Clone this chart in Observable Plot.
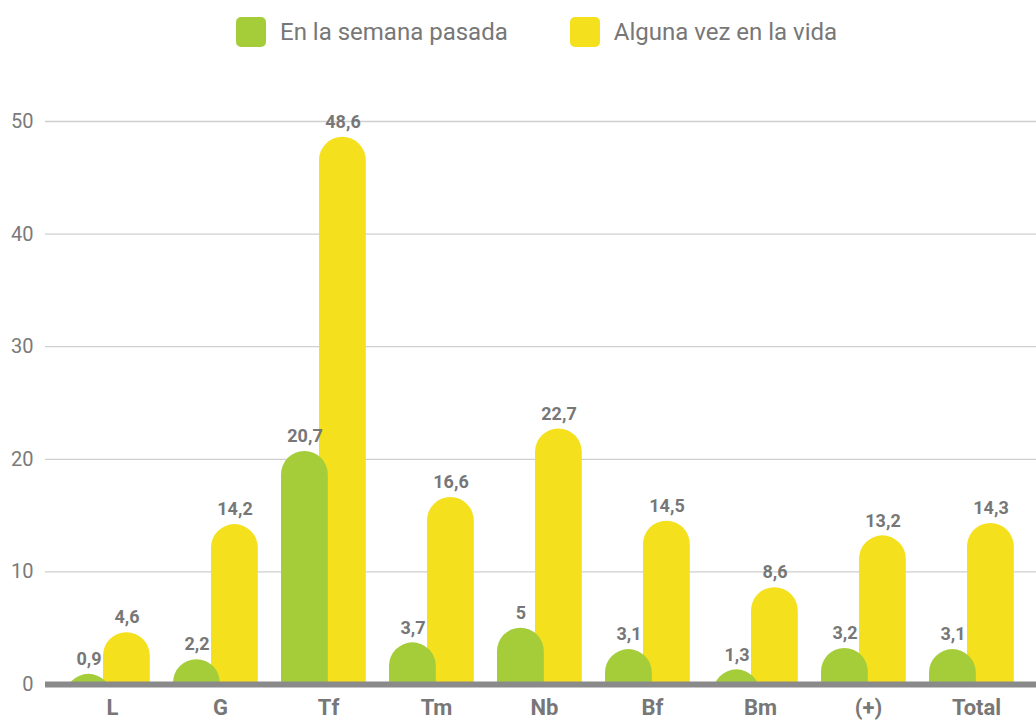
<!DOCTYPE html>
<html>
<head>
<meta charset="utf-8">
<script src="https://cdn.jsdelivr.net/npm/d3@7"></script>
<script src="https://cdn.jsdelivr.net/npm/@observablehq/plot@0.6"></script>
<style>
  html, body { margin: 0; padding: 0; background: #fff; }
  body { width: 1036px; height: 720px; overflow: hidden; font-family: Roboto, sans-serif; }
  #legend { height: 64px; display: flex; align-items: center; padding-left: 236px; }
  .item { display: flex; align-items: center; }
  .sw { width: 30px; height: 30px; border-radius: 5px; margin-right: 14px; }
  .lab { font-size: 24px; color: #777; }
  #chart svg { display: block; }
</style>
</head>
<body>
<div id="legend"></div>
<div id="chart"></div>
<script>
const categories = ["L", "G", "Tf", "Tm", "Nb", "Bf", "Bm", "(+)", "Total"];
const semanaPasada = [0.9, 2.2, 20.7, 3.7, 5, 3.1, 1.3, 3.2, 3.1];
const algunaVez = [4.6, 14.2, 48.6, 16.6, 22.7, 14.5, 8.6, 13.2, 14.3];
const seriesNames = ["En la semana pasada", "Alguna vez en la vida"];
const seriesColors = ["#a4cd39", "#f4e01d"];
const yTicks = [0, 10, 20, 30, 40, 50];

const data = categories.map((c, i) => ({cat: c, semana: semanaPasada[i], vida: algunaVez[i]}));
const fmt = v => String(v).replace(".", ",");

// legend
const legend = document.getElementById("legend");
seriesNames.forEach((name, i) => {
  const it = document.createElement("div");
  it.className = "item";
  if (i > 0) it.style.marginLeft = "62px";
  it.innerHTML = `<div class="sw" style="background:${seriesColors[i]}"></div><div class="lab">${name}</div>`;
  legend.appendChild(it);
});

const labelStyle = {fill: "#777", fontSize: 18, fontWeight: "bold", textAnchor: "middle", dy: -15};

const chart = Plot.plot({
  width: 1036,
  height: 656,
  marginLeft: 45,
  marginRight: 0,
  marginTop: 57,
  marginBottom: 36,
  style: {fontFamily: "Roboto, sans-serif", background: "white"},
  x: {domain: categories, range: [52, 1026], padding: 0},
  y: {domain: [0, 50]},
  marks: [
    Plot.gridY(yTicks.filter(t => t > 0), {stroke: "#cfcfcf", strokeOpacity: 1, strokeWidth: 1.3}),
    Plot.axisY(yTicks, {tickSize: 0, tickPadding: 12, fontSize: 20, fill: "#7a7a7a", label: null}),
    Plot.barY(data, {x: "cat", y: "vida", fill: seriesColors[1], insetLeft: 50, insetRight: 11.2, insetBottom: -60, rx: 23.5, clip: true}),
    Plot.barY(data, {x: "cat", y: "semana", fill: seriesColors[0], insetLeft: 12, insetRight: 49.2, insetBottom: -60, rx: 23.5, clip: true}),
    Plot.ruleY([0], {stroke: "#8a8a8a", strokeWidth: 6}),
    Plot.text(data, {x: "cat", y: "semana", text: d => fmt(d.semana), dx: -18.5, ...labelStyle}),
    Plot.text(data, {x: "cat", y: "vida", text: d => fmt(d.vida), dx: 19.5, ...labelStyle}),
    Plot.axisX({tickSize: 0, tickPadding: 15, dx: 5, fontSize: 22, fontWeight: "bold", fill: "#777", label: null})
  ]
});
document.getElementById("chart").appendChild(chart);
</script>
</body>
</html>
